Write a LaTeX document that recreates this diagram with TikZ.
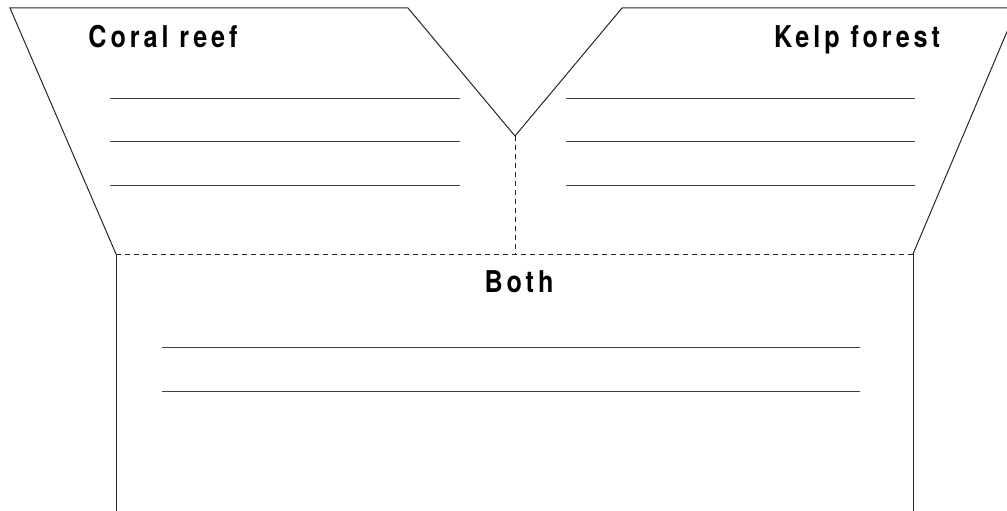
\documentclass[tikz,border=0pt]{standalone}
\usepackage{fontspec}
\newfontfamily\headfont[FakeStretch=0.84,LetterSpace=13]{TeX Gyre Heros}
\tikzset{
  outline/.style={line width=1pt, black!85},
  fold/.style={line width=0.9pt, black!85, dash pattern=on 5pt off 4pt},
  writeline/.style={line width=1pt, black!75},
  heading/.style={font=\headfont\bfseries\fontsize{30}{32}\selectfont, inner sep=0pt, anchor=base}
}

\begin{document}
\begin{tikzpicture}[x=1pt, y=-1pt]
        \useasboundingbox (0, 0) rectangle (1007, 511);
        \clip (0, 0) rectangle (1007, 511);

        % corners of the folded sheet
        \coordinate (tl) at (10, 8);
        \coordinate (vl) at (408, 8);
        \coordinate (vtip) at (515, 136);
        \coordinate (vr) at (622, 8);
        \coordinate (tr) at (1017, 8);
        \coordinate (bl) at (116, 254);
        \coordinate (br) at (913, 254);
        \coordinate (bmid) at (515, 254);

        \draw[outline] (bl) -- (tl) -- (vl) -- (vtip) -- (vr) -- (tr) -- (br);
        \draw[outline] (bl) -- ++(0, 270);
        \draw[outline] (br) -- ++(0, 270);

        \draw[fold] (bl) -- (br);
        \draw[fold] (vtip) -- (bmid);

        \node[heading] (coral) at (163, 48) {Coral reef};
        \node[heading] (kelp) at (857, 48) {Kelp forest};
        \node[heading] (both) at (519, 292) {Both};

        \foreach \y in {98, 141, 185} {
            \draw[writeline] (110, \y) -- (460, \y);
            \draw[writeline] (566, \y) -- (915, \y);
        }
        \foreach \y in {347, 391}
            \draw[writeline] (162, \y) -- (860, \y);
    \end{tikzpicture}
\end{document}
